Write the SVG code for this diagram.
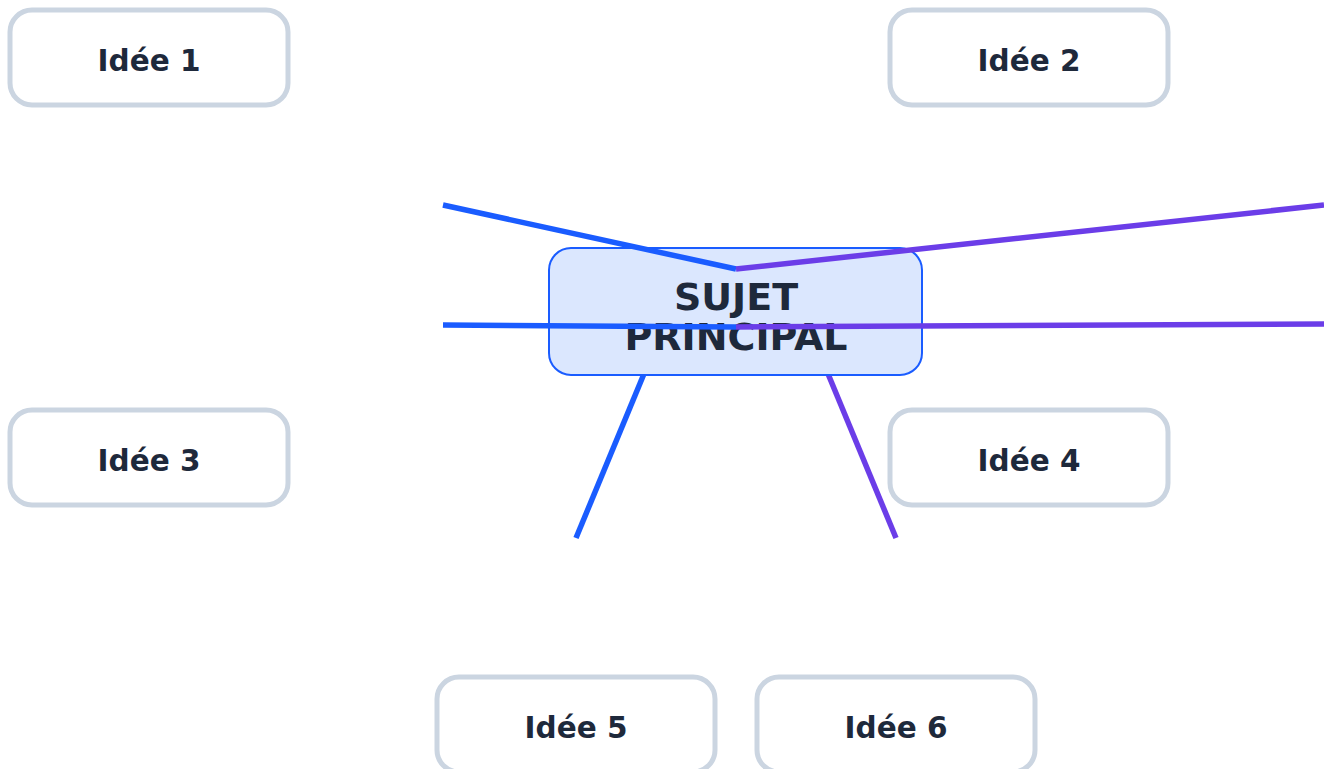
<svg xmlns="http://www.w3.org/2000/svg" width="1324" height="769" viewBox="0 0 1324 769">
<style>
.idea rect{fill:#ffffff;stroke:#cbd5e1;stroke-width:5}
.idea text{font-family:"DejaVu Sans",sans-serif;font-weight:bold;font-size:29.5px;fill:#1e293b;text-anchor:middle}
.c{fill:none;stroke-width:5.5;stroke-linecap:butt}
.b{stroke:#1a5cff}
.p{stroke:#6b3de8}
.main text{font-family:"DejaVu Sans",sans-serif;font-weight:bold;font-size:38px;fill:#1e293b;text-anchor:middle}
</style>
<rect width="1324" height="769" fill="#ffffff"/>
<g id="connectors-under">
<line class="c b" x1="576" y1="538" x2="670" y2="311"/>
<line class="c p" x1="896" y1="538" x2="802" y2="311"/>
</g>
<g id="main" class="main">
<rect x="549" y="248" width="373" height="127" rx="22" fill="#dbe7fe" stroke="#1a5cff" stroke-width="2"/>
<text x="736" y="310">SUJET</text>
<text x="736" y="350">PRINCIPAL</text>
</g>
<g id="connectors">
<line class="c b" x1="443" y1="205" x2="736" y2="269"/>
<line class="c p" x1="736" y1="269" x2="1324" y2="205"/>
<line class="c b" x1="443" y1="325" x2="736" y2="327"/>
<line class="c p" x1="736" y1="327" x2="1324" y2="324"/>
</g>
<g id="idee1" class="idea"><rect x="10" y="10" width="278" height="95" rx="22"/><text x="149" y="71">Idée 1</text></g>
<g id="idee2" class="idea"><rect x="890" y="10" width="278" height="95" rx="22"/><text x="1029" y="71">Idée 2</text></g>
<g id="idee3" class="idea"><rect x="10" y="410" width="278" height="95" rx="22"/><text x="149" y="471">Idée 3</text></g>
<g id="idee4" class="idea"><rect x="890" y="410" width="278" height="95" rx="22"/><text x="1029" y="471">Idée 4</text></g>
<g id="idee5" class="idea"><rect x="437" y="677" width="278" height="95" rx="22"/><text x="576" y="738">Idée 5</text></g>
<g id="idee6" class="idea"><rect x="757" y="677" width="278" height="95" rx="22"/><text x="896" y="738">Idée 6</text></g>
</svg>
